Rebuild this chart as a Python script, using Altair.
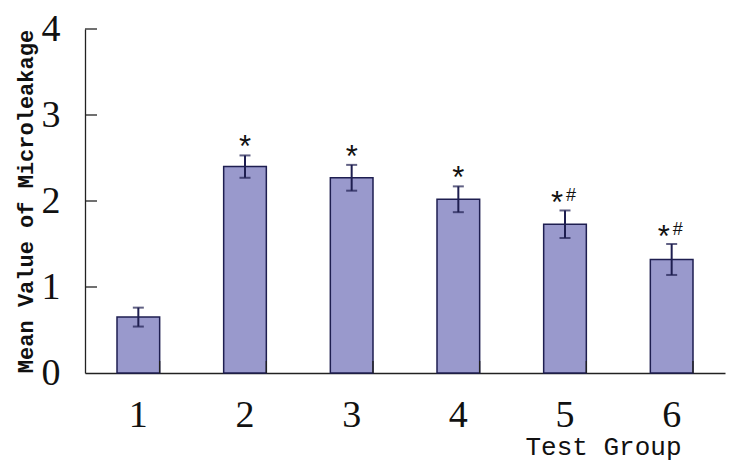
import altair as alt
import pandas as pd

groups = ["1", "2", "3", "4", "5", "6"]
means = [0.65, 2.40, 2.27, 2.02, 1.73, 1.32]
errors = [0.11, 0.13, 0.15, 0.15, 0.16, 0.18]
stars = ["", "*", "*", "*", "*", "*"]
hashes = ["", "", "", "", "#", "#"]
y_ticks = [1, 2, 3, 4]

df = pd.DataFrame({"group": groups, "mean": means, "err": errors,
                   "star": stars, "hash": hashes})
df["lo"] = df["mean"] - df["err"]
df["hi"] = df["mean"] + df["err"]
ticks_df = pd.DataFrame({"v": y_ticks})

navy = "#1e1e50"
xscale = alt.Scale(paddingInner=0.6, paddingOuter=0.3)
yscale = alt.Scale(domain=[0, 4], nice=False)

x_enc = alt.X("group:N", sort=groups, scale=xscale,
              axis=alt.Axis(title="Test Group", labelAngle=0, ticks=False, tickSize=0,
                            labelPadding=42, labelBaseline="middle",
                            labelFont="Liberation Serif", labelFontSize=38,
                            labelColor="#111", titleFont="Liberation Mono",
                            titleFontSize=26, titleFontWeight="normal", titleColor="#111",
                            titleX=518, titleY=73, titleAlign="center",
                            titleBaseline="middle", domainColor="#222", domainWidth=1.3))
y_enc = alt.Y("mean:Q", scale=yscale,
              axis=alt.Axis(title="Mean Value of Microleakage", values=[0, 1, 2, 3, 4],
                            format="d",
                            ticks=False, tickSize=0, labelPadding=25, grid=False,
                            labelFont="Liberation Serif", labelFontSize=38,
                            labelColor="#111", labelBaseline="middle",
                            titleFont="Liberation Mono", titleFontSize=22,
                            titleFontWeight="bold", titleColor="#111",
                            titleX=-60, titleY=172, titleAlign="center",
                            titleBaseline="middle", titleAngle=270,
                            domainColor="#222", domainWidth=1.3))

base = alt.Chart(df)

bars = base.mark_bar(color="#9999cc", stroke=navy, strokeWidth=1.5).encode(x=x_enc, y=y_enc)

err_rule = base.mark_rule(color=navy, strokeWidth=2).encode(
    x=alt.X("group:N", sort=groups), y=alt.Y("lo:Q"), y2="hi:Q")
cap_hi = base.mark_tick(color=navy, size=11, thickness=2).encode(
    x=alt.X("group:N", sort=groups), y=alt.Y("hi:Q"))
cap_lo = base.mark_tick(color=navy, size=11, thickness=2).encode(
    x=alt.X("group:N", sort=groups), y=alt.Y("lo:Q"))

star_only = base.transform_filter("datum.star != '' && datum.hash == ''").mark_text(
    font="Liberation Sans", fontSize=31, color="#111",
    baseline="alphabetic", dy=2).encode(
    x=alt.X("group:N", sort=groups), y=alt.Y("hi:Q"), text="star:N")
star_hash = base.transform_filter("datum.hash != ''").mark_text(
    font="Liberation Sans", fontSize=31, color="#111",
    baseline="alphabetic", dy=3, dx=-8).encode(
    x=alt.X("group:N", sort=groups), y=alt.Y("hi:Q"), text="star:N")
hash_txt = base.transform_filter("datum.hash != ''").mark_text(
    font="Liberation Sans", fontSize=18, color="#111",
    baseline="alphabetic", dy=-9, dx=6).encode(
    x=alt.X("group:N", sort=groups), y=alt.Y("hi:Q"), text="hash:N")

y_tick_marks = alt.Chart(ticks_df).mark_rule(color="#222", strokeWidth=1.3).encode(
    y=alt.Y("v:Q"), x=alt.value(0), x2=alt.value(12))
x_tick_marks = base.mark_rule(color="#222", strokeWidth=1.3).encode(
    x=alt.X("group:N", sort=groups, bandPosition=1), y=alt.value(332), y2=alt.value(344))

chart = alt.layer(bars, err_rule, cap_hi, cap_lo, star_only, star_hash, hash_txt,
                  y_tick_marks, x_tick_marks).properties(
    width=640, height=344,
    autosize=alt.AutoSizeParams(type="none"),
    padding={"left": 77, "top": 21, "right": 8, "bottom": 94},
    background="white",
).configure_view(stroke=None)

chart.save("out.html", embed_options={"renderer": "svg", "actions": False})
